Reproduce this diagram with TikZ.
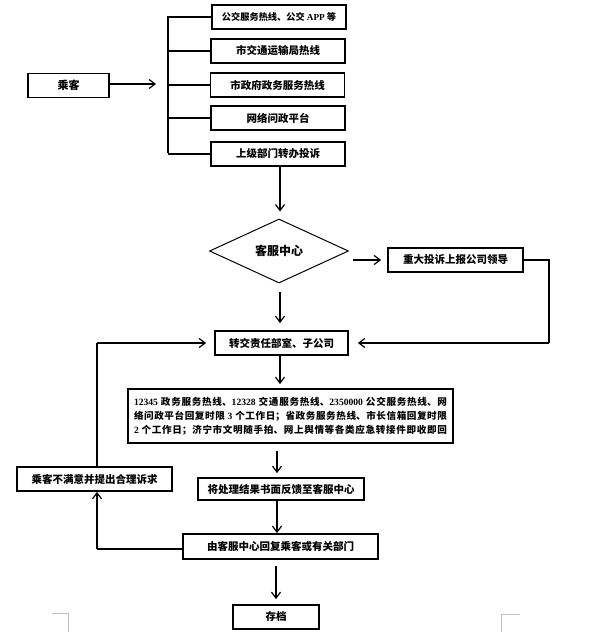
\documentclass[tikz,border=0pt]{standalone}
\usepackage{fontspec}
\setmainfont{Noto Sans CJK SC}
\newfontfamily\latf{Liberation Serif}
\newcommand\lt[1]{{\latf\bfseries #1}}
\usetikzlibrary{shapes.geometric,arrows.meta}
\XeTeXlinebreaklocale "zh"
\XeTeXlinebreakskip=0pt plus 1pt
\tikzset{
  box/.style={draw,line width=1.8pt,inner sep=0pt,minimum height=24pt,font=\fontsize{10.5}{12}\selectfont\bfseries},
  conn/.style={line width=1.4pt},
  arr/.style={line width=1.4pt,-{Straight Barb[length=6pt,width=9pt,line width=1.2pt]}},
  cornermark/.style={draw=black!25,line width=0.8pt}
}
\begin{document}
\begin{tikzpicture}[x=1pt,y=-1pt]
\useasboundingbox (0,0) rectangle (590,639);
% nodes
\node[box,minimum width=81pt,font=\fontsize{11}{12}\selectfont\bfseries] (pass) at (68.5,85.5) {乘客};
\node[box,minimum width=134pt,font=\fontsize{9.2}{11}\selectfont\bfseries] (b1) at (279,17) {公交服务热线、公交 \lt{APP} 等};
\node[box,minimum width=134pt] (b2) at (278,51) {市交通运输局热线};
\node[box,minimum width=134pt] (b3) at (277.5,85) {市政府政务服务热线};
\node[box,minimum width=134pt] (b4) at (278,118) {网络问政平台};
\node[box,minimum width=134pt] (b5) at (278,154) {上级部门转办投诉};
\node[draw,diamond,line width=1pt,inner sep=0pt,minimum width=139pt,minimum height=64pt,font=\fontsize{12}{14}\selectfont\bfseries] (kf) at (279,251) {客服中心};
\node[box,minimum width=135pt] (rep) at (455.5,260) {重大投诉上报公司领导};
\node[box,minimum width=133pt] (zj) at (281.5,343) {转交责任部室、子公司};
\node[box,minimum width=325pt,minimum height=54pt,text width=313pt,align=justify,font=\fontsize{9.6}{14}\selectfont\bfseries] (big) at (290.5,416)
 {\parfillskip=0pt \lt{12345} 政务服务热线、\lt{12328} 交通服务热线、\lt{2350000} 公交服务热线、网\linebreak 络问政平台回复时限 \lt{3} 个工作日；省政务服务热线、市长信箱回复时限\linebreak \lt{2} 个工作日；济宁市文明随手拍、网上舆情等各类应急转接件即收即回\par};
\node[box,minimum width=155pt] (unsat) at (94.5,479) {乘客不满意并提出合理诉求};
\node[box,minimum width=166pt,minimum height=22pt] (fb) at (281,489) {将处理结果书面反馈至客服中心};
\node[box,minimum width=195pt,minimum height=25pt] (reply) at (280.5,546.5) {由客服中心回复乘客或有关部门};
\node[box,minimum width=86pt] (arch) at (276,617) {存档};
% coordinates
\coordinate (pa) at (156,84);
\coordinate (bt) at (168,16);
\coordinate (bb) at (168,153);
\coordinate (rc) at (549,260);
\coordinate (rd) at (549,343);
\coordinate (lt) at (97,343);
\coordinate (lb) at (97,549);
% connectors
\draw[arr] (pass.east |- 0,84) -- (pa);
\draw[conn] (bt) -- (bb);
\foreach \b in {b1,b2,b3,b4,b5} \draw[conn] (bt |- \b.west) -- (\b.west);
\draw[arr,shorten >=7pt] (b5.south -| 280,0) -- (kf.north -| 280,0);
\draw[arr,shorten <=4pt,shorten >=6pt] (kf.east |- rep.west) -- (rep.west);
\draw[conn] (rep.east) -- (rc) -- (rd);
\draw[arr,shorten >=9pt] (rd) -- (zj.east);
\draw[arr,shorten <=8pt,shorten >=7pt] (kf.south -| 280,0) -- (zj.north -| 280,0);
\draw[arr,shorten >=8pt] (lt) -- (zj.west);
\draw[conn] (lt) -- (unsat.north -| lt);
\draw[arr,shorten >=4pt] (zj.south -| 280,0) -- (big.north -| 280,0);
\draw[arr,shorten <=7pt,shorten >=4pt] (big.south -| 277,0) -- (fb.north -| 277,0);
\draw[arr] (fb.south -| 277,0) -- (reply.north -| 277,0);
\draw[conn] (reply.west |- lb) -- (lb);
\draw[arr] (lb) -- (unsat.south -| lb);
\draw[arr,shorten <=6pt,shorten >=5pt] (reply.south -| 276,0) -- (arch.north);
% page corner marks
\draw[cornermark] (52,613) -- (68,613) -- (68,632);
\draw[cornermark] (520,614) -- (501,614) -- (501,632);
\end{tikzpicture}
\end{document}
